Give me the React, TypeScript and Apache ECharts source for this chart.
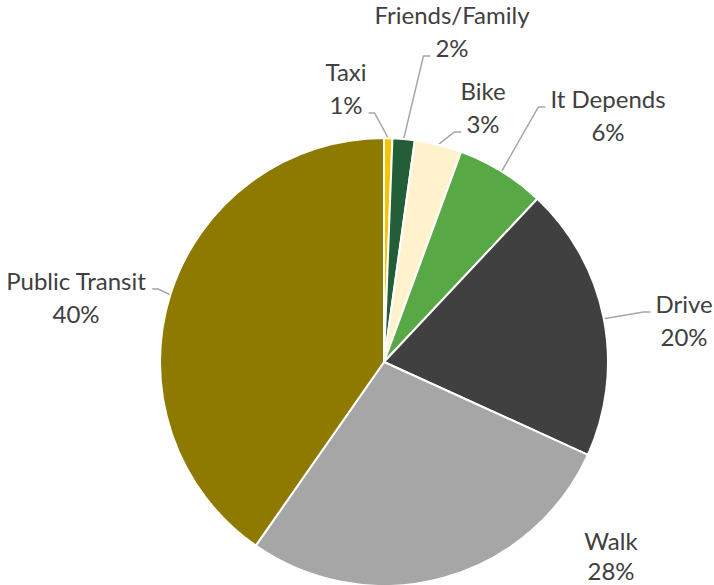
import React, { useEffect, useRef } from "react";
import * as echarts from "echarts";

const categories = ["Taxi", "Friends/Family", "Bike", "It Depends", "Drive", "Walk", "Public Transit"];
const values = [0.6, 1.6, 3.4, 6.4, 19.8, 27.9, 40.3];
const colors = ["#F5C400", "#235E39", "#FFF2CC", "#58A846", "#404040", "#A6A6A6", "#8E7A00"];

// label layout (positions of label blocks, not data)
const labelCenters: [number, number][] = [
  [346, 88],
  [452, 31],
  [483, 107],
  [608, 115],
  [684, 320],
  [611, 555],
  [76, 297],
];
// which text line the leader attaches to (0 = name, 1 = percentage)
const attachLine = [1, 1, 1, 0, 0, 0, 0];

const FONT = "Lato";
const FONT_SIZE = 24;
const LINE_H = 33;

function measure(text: string): number {
  const c = document.createElement("canvas").getContext("2d");
  if (!c) return text.length * 11;
  c.font = `${FONT_SIZE}px ${FONT}`;
  return c.measureText(text).width;
}

export default function App() {
  const ref = useRef<HTMLDivElement>(null);
  useEffect(() => {
    if (!ref.current) return;
    const chart = echarts.init(ref.current, null, { renderer: "svg" });
    const labelText = (i: number) => [categories[i], `${Math.round(values[i])}%`];
    chart.setOption({
      animation: false,
      backgroundColor: "#ffffff",
      series: [
        {
          type: "pie",
          center: [384, 362],
          radius: [0, 224],
          startAngle: 90,
          clockwise: true,
          avoidLabelOverlap: false,
          itemStyle: { borderColor: "#ffffff", borderWidth: 2 },
          label: {
            show: true,
            position: "outside",
            fontFamily: FONT,
            fontSize: FONT_SIZE,
            lineHeight: LINE_H,
            color: "#404040",
            align: "center",
            formatter: (p: any) => labelText(p.dataIndex).join("\n"),
          },
          labelLine: {
            show: true,
            length: 8,
            length2: 8,
            lineStyle: { color: "#A6A6A6", width: 1.5 },
          },
          labelLayout: (params: any) => {
            const i = params.dataIndex;
            const c = labelCenters[i];
            const lh = i === 5 ? 30 : LINE_H;
            const out: any = { x: c[0], y: c[1], align: "center", verticalAlign: "middle" };
            const pts = params.labelLinePoints;
            if (pts && pts[0] && categories[i] !== "Walk") {
              const p0 = pts[0];
              const k = attachLine[i];
              const txt = labelText(i)[k];
              const w = measure(txt);
              const ay = k === 0 ? c[1] - 8 : c[1] + 25;
              const leftSide = c[0] > p0[0];
              const endX = leftSide ? c[0] - w / 2 - 5 : c[0] + w / 2 + 6;
              const midX = leftSide ? endX - 7 : endX + 6;
              out.labelLinePoints = [
                [p0[0], p0[1]],
                [midX, ay],
                [endX, ay],
              ];
            }
            return out;
          },
          data: categories.map((name, i) => ({
            name,
            value: values[i],
            itemStyle: { color: colors[i] },
            label: i === 5 ? { lineHeight: 30 } : undefined,
            labelLine: { show: name !== "Walk" },
          })),
        },
      ],
    });
    return () => chart.dispose();
  }, []);
  return (
    <div
      ref={ref}
      style={{ position: "fixed", left: 0, top: 0, width: 714, height: 585 }}
    />
  );
}
